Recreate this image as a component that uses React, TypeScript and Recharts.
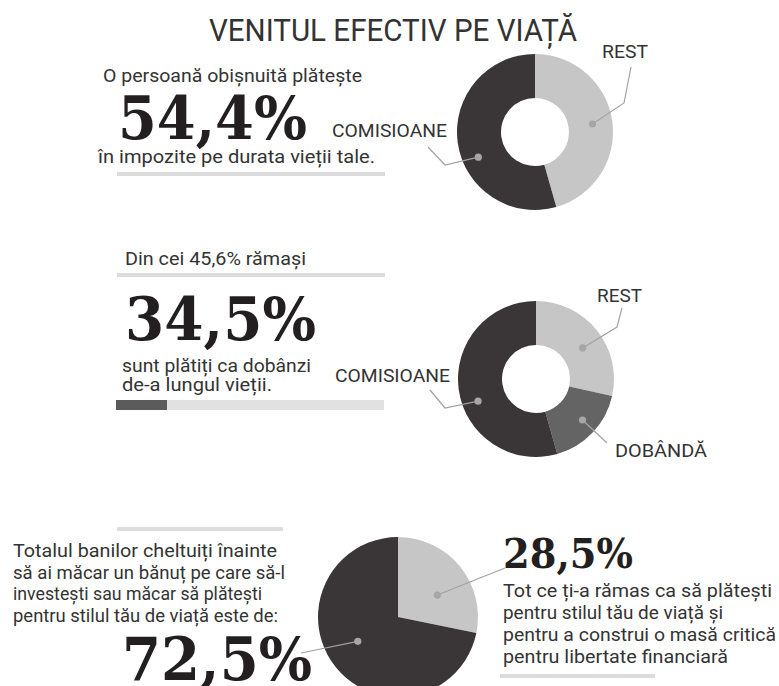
import React from 'react';
import { PieChart, Pie, Cell } from 'recharts';

const W = 779;
const H = 686;

// slice values
const taxData = [
  { name: 'REST', value: 45.6 },
  { name: 'COMISIOANE', value: 54.4 },
];
const interestData = [
  { name: 'REST', value: 28.5 },
  { name: 'DOBÂNDĂ', value: 17.1 },
  { name: 'COMISIOANE', value: 54.4 },
];
const totalData = [
  { name: 'REST', value: 28.5 },
  { name: 'TOTAL', value: 72.5 },
];

const taxColors = ['#c6c6c6', '#3a3637'];
const interestColors = ['#c6c6c6', '#646464', '#3a3637'];
const totalColors = ['#c6c6c6', '#3a3637'];

const LIGHT_TEXT = '#333333';
const BIG_TEXT = '#231f20';
const SANS = 'Roboto, "DejaVu Sans", sans-serif';
const SERIF = '"DejaVu Serif", "Liberation Serif", serif';

type Leader = {
  nudge: number;
  r: number;
  pts: [number, number][];
  showName?: boolean;
  tx?: number;
  ty?: number;
  tw?: number;
};

// leader line styling per slice, offsets relative to the pie center
const taxLeaders: Leader[] = [
  { nudge: 0, r: 58, pts: [[89, -29], [96, -65]], showName: true, tx: 67, ty: -74, tw: 46 },
  { nudge: 16, r: 62, pts: [[-90, 33], [-107, 15]], showName: true, tx: -203, ty: 5, tw: 115 },
];
const interestLeaders: Leader[] = [
  { nudge: -5, r: 56, pts: [[81, -52], [86, -71]], showName: true, tx: 61, ty: -77, tw: 45 },
  { nudge: 2, r: 62, pts: [[71, 64]], showName: true, tx: 79, ty: 78, tw: 92 },
  { nudge: 13, r: 62, pts: [[-91, 29], [-106, 11]], showName: true, tx: -201, ty: 3, tw: 115 },
];
const totalLeaders: Leader[] = [
  { nudge: -10, r: 45, pts: [[107, -49]] },
  { nudge: -8, r: 47, pts: [[-97, 36]] },
];

const renderLeader = (leaders: Leader[]) => (props: any) => {
  const { cx, cy, midAngle, index, name } = props;
  const L = leaders[index];
  if (!L) return null;
  const a = ((midAngle + L.nudge) * Math.PI) / 180;
  const dx = cx + L.r * Math.cos(a);
  const dy = cy - L.r * Math.sin(a);
  const pts = [[dx, dy], ...L.pts.map(([x, y]) => [cx + x, cy + y])];
  return (
    <g key={`leader-${index}`}>
      <polyline
        points={pts.map((p) => p.join(',')).join(' ')}
        fill="none"
        stroke="#a2a2a2"
        strokeWidth={1.2}
      />
      <circle cx={dx} cy={dy} r={3.6} fill="#a6a6a6" />
      {L.showName && (
        <text
          x={cx + (L.tx || 0)}
          y={cy + (L.ty || 0)}
          fontFamily={SANS}
          fontSize={19}
          fill={LIGHT_TEXT}
          textLength={L.tw}
          lengthAdjust="spacingAndGlyphs"
        >
          {name}
        </text>
      )}
    </g>
  );
};

type Line = { t: string; x: number; y: number; w: number; size?: number };

const sansLines: Line[] = [
  { t: 'O persoană obișnuită plătește', x: 103, y: 82, w: 259 },
  { t: 'în impozite pe durata vieții tale.', x: 98, y: 163, w: 277 },
  { t: 'Din cei 45,6% rămași', x: 125, y: 265, w: 181 },
  { t: 'sunt plătiți ca dobânzi', x: 122, y: 372, w: 189 },
  { t: 'de-a lungul vieții.', x: 122, y: 391, w: 150 },
  { t: 'Totalul banilor cheltuiți înainte', x: 13, y: 557, w: 264 },
  { t: 'să ai măcar un bănuț pe care să-l', x: 13, y: 579, w: 272 },
  { t: 'investești sau măcar să plătești', x: 13, y: 600, w: 249 },
  { t: 'pentru stilul tău de viață este de:', x: 13, y: 622, w: 265 },
  { t: 'Tot ce ți-a rămas ca să plătești', x: 503, y: 597, w: 269 },
  { t: 'pentru stilul tău de viață și', x: 503, y: 619, w: 220 },
  { t: 'pentru a construi o masă critică', x: 503, y: 641, w: 273 },
  { t: 'pentru libertate financiară', x: 503, y: 663, w: 225 },
];

const bigLines: Line[] = [
  { t: '54,4%', x: 118, y: 139, w: 189, size: 59 },
  { t: '34,5%', x: 125, y: 340, w: 191, size: 59 },
  { t: '72,5%', x: 122, y: 680, w: 190, size: 59 },
  { t: '28,5%', x: 503, y: 568, w: 130, size: 41 },
];

const rules = [
  { x: 117, y: 172, w: 268, h: 4, c: '#dcdcdc' },
  { x: 117, y: 273, w: 268, h: 4, c: '#dcdcdc' },
  { x: 116, y: 400, w: 268, h: 10, c: '#e1e1e1' },
  { x: 116, y: 400, w: 51, h: 10, c: '#5b5b5b' },
  { x: 117, y: 527, w: 166, h: 4, c: '#dcdcdc' },
  { x: 500, y: 674, w: 155, h: 4, c: '#dcdcdc' },
];

const App: React.FC = () => {
  return (
    <div style={{ position: 'absolute', left: 0, top: 0, width: W, height: H, background: '#fff' }}>
      <div style={{ position: 'absolute', left: 0, top: 0 }}>
        <PieChart width={W} height={H}>
          <Pie
            data={taxData}
            dataKey="value"
            nameKey="name"
            cx={530}
            cy={127}
            innerRadius={34}
            outerRadius={78}
            startAngle={90}
            endAngle={-270}
            stroke="none"
            isAnimationActive={false}
            label={renderLeader(taxLeaders)}
            labelLine={false}
          >
            {taxData.map((d, i) => (
              <Cell key={d.name} fill={taxColors[i]} />
            ))}
          </Pie>
          <Pie
            data={interestData}
            dataKey="value"
            nameKey="name"
            cx={531}
            cy={374}
            innerRadius={34}
            outerRadius={78}
            startAngle={90}
            endAngle={-270}
            stroke="none"
            isAnimationActive={false}
            label={renderLeader(interestLeaders)}
            labelLine={false}
          >
            {interestData.map((d, i) => (
              <Cell key={d.name} fill={interestColors[i]} />
            ))}
          </Pie>
          <Pie
            data={totalData}
            dataKey="value"
            nameKey="name"
            cx={393}
            cy={612}
            innerRadius={0}
            outerRadius={80}
            startAngle={90}
            endAngle={-270}
            stroke="none"
            isAnimationActive={false}
            label={renderLeader(totalLeaders)}
            labelLine={false}
          >
            {totalData.map((d, i) => (
              <Cell key={d.name} fill={totalColors[i]} />
            ))}
          </Pie>
        </PieChart>
      </div>
      <svg
        width={W}
        height={H}
        style={{ position: 'absolute', left: 0, top: 0, pointerEvents: 'none' }}
      >
        <text
          x={209}
          y={41}
          fontFamily={SANS}
          fontSize={32}
          fill={LIGHT_TEXT}
          textLength={368}
          lengthAdjust="spacingAndGlyphs"
        >
          VENITUL EFECTIV PE VIAȚĂ
        </text>
        {rules.map((r, i) => (
          <rect key={i} x={r.x} y={r.y} width={r.w} height={r.h} fill={r.c} />
        ))}
        {sansLines.map((l) => (
          <text
            key={l.t}
            x={l.x}
            y={l.y}
            fontFamily={SANS}
            fontSize={18}
            fill={LIGHT_TEXT}
            textLength={l.w}
            lengthAdjust="spacingAndGlyphs"
          >
            {l.t}
          </text>
        ))}
        {bigLines.map((l) => (
          <text
            key={l.t}
            x={l.x}
            y={l.y}
            fontFamily={SERIF}
            fontWeight={700}
            fontSize={l.size}
            fill={BIG_TEXT}
            textLength={l.w}
            lengthAdjust="spacingAndGlyphs"
          >
            {l.t}
          </text>
        ))}
      </svg>
    </div>
  );
};

export default App;
